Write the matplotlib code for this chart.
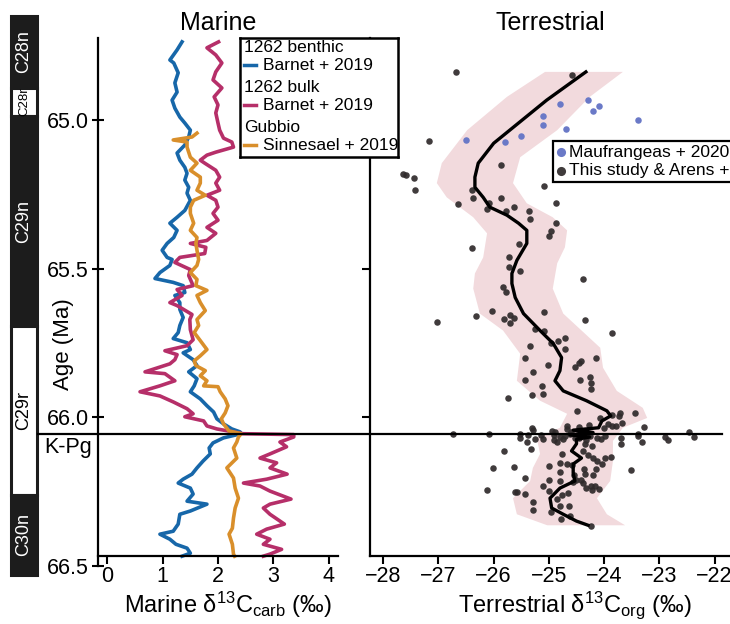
import numpy as np
import matplotlib
matplotlib.use("Agg")
import matplotlib.pyplot as plt
import matplotlib.transforms as mtransforms
from matplotlib.lines import Line2D

plt.rcParams['font.family'] = ['Liberation Sans', 'DejaVu Sans']
plt.rcParams['mathtext.fontset'] = 'custom'
plt.rcParams['mathtext.rm'] = 'Liberation Sans'
plt.rcParams['mathtext.it'] = 'Liberation Sans:italic'
plt.rcParams['mathtext.bf'] = 'Liberation Sans:bold'

# ---------------- data ----------------
KPG_AGE = 66.055

# ODP 1262 benthic foraminifera (Barnet et al. 2019)
benthic_age = [64.737, 64.764, 64.798, 64.808, 64.841, 64.875, 64.906, 64.933, 64.960, 64.990,
               65.010, 65.034, 65.057, 65.084, 65.111, 65.135, 65.159, 65.179, 65.202, 65.226,
               65.246, 65.270, 65.304, 65.327, 65.347, 65.371, 65.395, 65.415, 65.438, 65.462,
               65.469, 65.489, 65.513, 65.533, 65.546, 65.557, 65.580, 65.590, 65.614, 65.637,
               65.664, 65.691, 65.715, 65.735, 65.749, 65.772, 65.783, 65.806, 65.826, 65.847,
               65.870, 65.894, 65.914, 65.938, 65.961, 65.982, 66.005, 66.022, 66.039, 66.049,
               66.055, 66.069, 66.086, 66.103, 66.123, 66.147, 66.170, 66.191, 66.208, 66.221,
               66.238, 66.258, 66.282, 66.292, 66.315, 66.326, 66.359, 66.383, 66.393, 66.410,
               66.427, 66.440, 66.457, 66.467]
benthic_d13c = [1.35, 1.26, 1.13, 1.20, 1.28, 1.22, 1.26, 1.17, 1.22, 1.31,
                1.40, 1.50, 1.47, 1.40, 1.26, 1.31, 1.40, 1.44, 1.40, 1.47,
                1.44, 1.50, 1.40, 1.26, 1.13, 1.26, 1.20, 1.08, 0.99, 1.08,
                1.17, 1.13, 0.95, 0.86, 1.19, 1.37, 1.40, 1.22, 1.31, 1.31,
                1.37, 1.31, 1.28, 1.19, 1.44, 1.50, 1.37, 1.55, 1.62, 1.47,
                1.62, 1.57, 1.50, 1.68, 1.80, 1.92, 1.98, 2.10, 2.25, 2.40,
                2.42, 2.10, 1.91, 1.84, 1.86, 1.73, 1.62, 1.53, 1.37, 1.28,
                1.50, 1.55, 1.44, 1.80, 1.50, 1.31, 1.28, 1.19, 0.95, 1.13,
                1.24, 1.44, 1.50, 1.35]

# ODP 1262 bulk carbonate (Barnet et al. 2019)
bulk_age = [64.737, 64.757, 64.781, 64.808, 64.838, 64.865, 64.892, 64.922, 64.949, 64.976,
            65.010, 65.034, 65.061, 65.074, 65.091, 65.108, 65.118, 65.135, 65.145, 65.169,
            65.192, 65.212, 65.236, 65.253, 65.270, 65.293, 65.314, 65.337, 65.361, 65.381,
            65.405, 65.415, 65.428, 65.449, 65.462, 65.479, 65.503, 65.523, 65.557, 65.570,
            65.590, 65.614, 65.624, 65.654, 65.671, 65.705, 65.739, 65.759, 65.776, 65.789,
            65.806, 65.820, 65.847, 65.853, 65.877, 65.894, 65.914, 65.928, 65.948, 65.971,
            65.988, 65.998, 66.012, 66.029, 66.039, 66.049, 66.055, 66.058, 66.066, 66.083,
            66.099, 66.123, 66.137, 66.153, 66.170, 66.191, 66.208, 66.221, 66.231, 66.248,
            66.275, 66.292, 66.305, 66.326, 66.359, 66.376, 66.393, 66.410, 66.427, 66.444,
            66.460, 66.467]
bulk_d13c = [2.01, 1.80, 1.96, 2.07, 1.96, 1.91, 2.07, 1.93, 2.00, 1.96,
             2.00, 2.03, 2.10, 2.25, 2.28, 1.96, 1.80, 1.68, 1.76, 1.96,
             2.03, 1.96, 2.03, 1.80, 1.96, 2.00, 1.91, 2.00, 1.80, 1.96,
             1.80, 1.50, 1.78, 1.76, 1.31, 1.22, 1.50, 1.47, 1.55, 1.26,
             1.35, 1.13, 1.26, 1.53, 1.49, 1.50, 1.55, 1.44, 1.04, 1.26,
             1.22, 1.13, 0.68, 1.04, 1.22, 0.95, 0.59, 0.95, 1.19, 1.44,
             1.55, 1.40, 1.74, 1.80, 1.98, 2.28, 2.45, 3.37, 3.37, 3.12,
             3.24, 2.94, 2.76, 3.06, 2.94, 3.25, 2.88, 2.46, 2.76, 2.94,
             3.32, 2.94, 2.82, 2.94, 3.20, 2.88, 2.70, 2.94, 2.82, 3.15,
             2.94, 2.82]

# Gubbio bulk carbonate (Sinnesael et al. 2019)
gubbio_age = [65.044, 65.057, 65.067, 65.074, 65.091, 65.125, 65.145, 65.169, 65.192, 65.212,
              65.236, 65.253, 65.270, 65.293, 65.314, 65.347, 65.371, 65.395, 65.415, 65.438,
              65.469, 65.489, 65.513, 65.536, 65.557, 65.573, 65.590, 65.614, 65.641, 65.671,
              65.691, 65.715, 65.742, 65.772, 65.793, 65.810, 65.826, 65.843, 65.860, 65.877,
              65.894, 65.897, 65.914, 65.938, 65.961, 65.985, 66.005, 66.022, 66.046, 66.055,
              66.066, 66.083, 66.103, 66.137, 66.170, 66.204, 66.238, 66.272, 66.305, 66.339,
              66.373, 66.393, 66.427, 66.460, 66.467]
gubbio_d13c = [1.62, 1.53, 1.19, 1.44, 1.44, 1.50, 1.62, 1.50, 1.68, 1.68,
               1.62, 1.77, 1.56, 1.50, 1.50, 1.56, 1.50, 1.62, 1.60, 1.62,
               1.65, 1.62, 1.50, 1.62, 1.60, 1.80, 1.62, 1.68, 1.77, 1.62,
               1.65, 1.57, 1.68, 1.80, 1.68, 1.57, 1.60, 1.77, 1.68, 1.80,
               1.74, 2.00, 2.04, 2.13, 2.18, 2.13, 2.06, 2.10, 2.20, 2.42,
               2.37, 2.34, 2.28, 2.34, 2.16, 2.28, 2.31, 2.37, 2.31, 2.28,
               2.26, 2.20, 2.26, 2.28, 2.30]

# Terrestrial organic carbon: Maufrangeas et al. 2020
mauf_d13c = [-24.80, -24.29, -24.20, -24.09, -25.10, -25.10, -24.69, -23.39, -25.50, -25.80, -26.50]
mauf_age = [64.946, 64.933, 64.970, 64.954, 64.987, 65.018, 65.031, 65.000, 65.054, 65.073, 65.067]

# Terrestrial organic carbon: this study & Arens et al. 2014
terr_d13c = [-26.68, -24.59, -27.17, -27.64, -27.58, -27.44, -27.43, -25.87, -26.40, -25.09,
             -26.38, -26.64, -25.86, -26.09, -26.13, -25.78, -25.64, -25.36, -25.34, -24.87,
             -24.88, -24.97, -24.99, -25.55, -26.39, -25.72, -25.72, -25.52, -24.38, -25.84,
             -25.78, -27.02, -26.32, -26.03, -25.82, -25.71, -25.64, -25.71, -25.08, -24.34,
             -23.85, -25.26, -25.08, -24.97, -24.83, -24.70, -24.71, -25.34, -25.44, -25.01,
             -24.53, -24.45, -24.42, -24.15, -25.29, -25.44, -24.43, -24.26, -24.23, -24.23,
             -25.12, -25.11, -25.31, -25.74, -24.50, -24.07, -23.86, -23.72, -23.73, -23.44,
             -23.67, -23.78, -23.86, -23.93, -24.00, -23.28, -24.67, -24.68, -24.45, -24.27,
             -25.31, -25.29, -24.95, -24.89, -26.74, -26.09, -25.52, -25.38, -25.25, -25.14,
             -25.10, -24.91, -24.86, -24.74, -24.62, -24.53, -24.38, -24.26, -24.13, -23.98,
             -23.69, -23.39, -23.39, -22.90, -22.84, -22.46, -22.37, -25.52, -25.40, -23.69,
             -23.31, -25.32, -25.81, -24.77, -24.35, -24.22, -24.39, -24.29, -24.20, -24.12,
             -23.98, -23.88, -24.03, -24.68, -24.59, -24.79, -25.00, -26.01, -25.64, -24.36,
             -24.15, -24.79, -24.35, -24.20, -23.52, -25.44, -25.00, -24.80, -24.55, -24.56,
             -24.51, -24.42, -24.39, -24.32, -24.24, -24.16, -24.09, -24.22, -25.11, -25.62,
             -25.57, -25.43, -26.13, -24.99, -24.65, -24.76, -24.86, -25.28, -25.28, -24.97,
             -24.80, -24.64, -24.78, -24.61, -24.24, -24.80, -24.70, -24.45, -24.33, -24.05,
             -24.90, -24.60]
terr_age = [64.838, 64.848, 65.071, 65.180, 65.185, 65.195, 65.236, 65.152, 65.236, 65.223,
            65.263, 65.283, 65.263, 65.278, 65.300, 65.305, 65.291, 65.305, 65.334, 65.280,
            65.347, 65.374, 65.389, 65.416, 65.431, 65.459, 65.493, 65.507, 65.535, 65.562,
            65.577, 65.680, 65.658, 65.642, 65.668, 65.657, 65.665, 65.682, 65.647, 65.672,
            65.717, 65.703, 65.709, 65.750, 65.743, 65.734, 65.770, 65.761, 65.802, 65.825,
            65.831, 65.816, 65.810, 65.799, 65.849, 65.873, 65.874, 65.863, 65.885, 65.906,
            65.894, 65.920, 65.925, 65.935, 65.979, 66.003, 65.992, 65.984, 65.995, 65.986,
            66.020, 66.030, 66.030, 66.023, 66.035, 66.033, 66.030, 66.040, 66.032, 66.026,
            66.035, 66.041, 66.046, 66.048, 66.057, 66.057, 66.057, 66.059, 66.074, 66.059,
            66.073, 66.077, 66.082, 66.074, 66.057, 66.068, 66.057, 66.063, 66.068, 66.062,
            66.071, 66.055, 66.062, 66.065, 66.076, 66.050, 66.066, 66.070, 66.082, 66.089,
            66.083, 66.106, 66.112, 66.124, 66.090, 66.096, 66.113, 66.126, 66.136, 66.147,
            66.136, 66.132, 66.156, 66.156, 66.159, 66.154, 66.165, 66.170, 66.167, 66.175,
            66.175, 66.183, 66.192, 66.194, 66.176, 66.204, 66.211, 66.215, 66.195, 66.219,
            66.210, 66.211, 66.220, 66.237, 66.232, 66.231, 66.242, 66.246, 66.230, 66.252,
            66.250, 66.257, 66.245, 66.247, 66.254, 66.260, 66.276, 66.286, 66.313, 66.318,
            66.298, 66.298, 66.341, 66.331, 66.364, 66.066, 66.062, 66.070, 66.075, 66.072,
            66.058, 66.050]

# Smoothed terrestrial trend and its confidence envelope
trend_d13c = [-24.33, -25.04, -25.55, -26.00, -26.28, -26.34, -26.34, -26.19, -26.07, -25.76,
              -25.55, -25.40, -25.40, -25.58, -25.67, -25.67, -25.61, -25.46, -25.16, -24.92,
              -24.77, -24.80, -24.89, -24.74, -24.32, -23.95, -23.88, -24.04, -24.10, -24.56,
              -24.20, -24.62, -24.26, -24.50, -24.50, -24.59, -24.41, -24.56, -24.56, -24.53,
              -24.80, -24.98, -24.95, -24.74, -24.50, -24.29]
trend_age = [64.838, 64.933, 65.010, 65.078, 65.145, 65.192, 65.226, 65.260, 65.293, 65.320,
             65.347, 65.371, 65.415, 65.472, 65.516, 65.550, 65.597, 65.651, 65.708, 65.752,
             65.799, 65.843, 65.877, 65.911, 65.944, 65.978, 65.995, 66.012, 66.035, 66.043,
             66.051, 66.059, 66.066, 66.074, 66.089, 66.113, 66.137, 66.157, 66.187, 66.214,
             66.238, 66.272, 66.305, 66.326, 66.349, 66.363]

env_lo_d13c = [-25.07, -25.76, -26.48, -26.94, -27.03, -26.85, -26.37, -26.12, -26.19, -26.34,
               -26.37, -26.25, -25.83, -25.52, -25.58, -25.16, -24.67, -24.80, -25.22, -25.16,
               -25.29, -25.34, -25.65, -25.58, -25.03]
env_lo_age = [64.838, 64.922, 65.034, 65.145, 65.212, 65.260, 65.327, 65.381, 65.462, 65.516,
              65.567, 65.651, 65.708, 65.786, 65.877, 65.944, 65.988, 66.035, 66.069, 66.123,
              66.170, 66.214, 66.272, 66.326, 66.363]
env_hi_d13c = [-23.66, -24.26, -24.85, -25.52, -25.65, -25.40, -24.93, -24.67, -24.71, -24.85,
               -24.93, -24.74, -24.07, -24.02, -23.77, -23.30, -23.22, -23.66, -23.84, -23.84,
               -23.89, -24.13, -23.95, -23.62]
env_hi_age = [64.838, 64.922, 65.034, 65.125, 65.212, 65.280, 65.327, 65.371, 65.428, 65.482,
              65.567, 65.651, 65.766, 65.833, 65.911, 65.968, 66.002, 66.035, 66.079, 66.147,
              66.214, 66.272, 66.326, 66.363]

# Geomagnetic polarity chrons
chron_names = ['C28n', 'C28r', 'C29n', 'C29r', 'C30n']
chron_top = [64.650, 64.892, 64.987, 65.693, 66.261]
chron_base = [64.892, 64.987, 65.693, 66.261, 66.530]
chron_normal = [True, False, True, False, True]

age_ticks = [65.0, 65.5, 66.0, 66.5]
marine_ticks = [0, 1, 2, 3, 4]
terr_ticks = [-28, -27, -26, -25, -24, -23, -22]

# ---------------- styling ----------------
BLUE = '#1767a9'
RED = '#b62f69'
ORANGE = '#d98f2b'
DOT = '#2f2a2b'
DOT_BLUE = '#6a79c7'
BAND = '#f2dadd'
NARROW = ['Liberation Sans Narrow', 'Liberation Sans', 'DejaVu Sans']

W, H = 730, 624
fig = plt.figure(figsize=(W / 100, H / 100), dpi=100)

AGE_TOP, AGE_BOT = 64.724, 66.5
SPINE_AGE = 66.467

def px_rect(x0, y0, x1, y1):
    return [x0 / W, 1 - y1 / H, (x1 - x0) / W, (y1 - y0) / H]

ax1 = fig.add_axes(px_rect(98, 38, 338, 566))
ax2 = fig.add_axes(px_rect(370, 38, 730, 566))
axc = fig.add_axes(px_rect(11, 38, 37, 566))

for ax in (ax1, ax2, axc):
    ax.set_ylim(AGE_BOT, AGE_TOP)

# ---- marine panel ----
ax1.plot(benthic_d13c, benthic_age, color=BLUE, lw=2.6, solid_joinstyle='round')
ax1.plot(bulk_d13c, bulk_age, color=RED, lw=2.6, solid_joinstyle='round')
ax1.plot(gubbio_d13c, gubbio_age, color=ORANGE, lw=2.6, solid_joinstyle='round')

ax1.set_xlim(-0.17, 4.17)
ax1.set_xticks(marine_ticks)
ax1.set_yticks(age_ticks)
ax1.set_yticklabels([f'{a:.1f}' for a in age_ticks])
ax1.spines['top'].set_visible(False)
ax1.spines['right'].set_visible(False)
ax1.spines['bottom'].set_position(('data', SPINE_AGE))
for s in ('left', 'bottom'):
    ax1.spines[s].set_linewidth(1.6)
ax1.tick_params(axis='y', direction='inout', length=9, width=1.5, labelsize=15.5, pad=2)
ax1.tick_params(axis='x', direction='out', length=6, width=1.5, labelsize=15.5, pad=1)
ax1.set_title('Marine', fontsize=18, pad=6)
ax1.set_ylabel('Age (Ma)', fontsize=16)
ax1.yaxis.set_label_coords(-0.10, 0.42)
ax1.set_xlabel(r'Marine δ$^{13}$C$_{\mathrm{carb}}$ (‰)', fontsize=17)
ax1.xaxis.set_label_coords(0.54, -0.045)

# ---- terrestrial panel ----
env_x = np.concatenate([env_lo_d13c, env_hi_d13c[::-1]])
env_y = np.concatenate([env_lo_age, env_hi_age[::-1]])
ax2.fill(env_x, env_y, color=BAND, lw=0, zorder=1)
sc_terr = ax2.scatter(terr_d13c, terr_age, s=22, color=DOT, alpha=0.92, lw=0, zorder=3)
sc_mauf = ax2.scatter(mauf_d13c, mauf_age, s=22, color=DOT_BLUE, lw=0, zorder=3)
ax2.plot(trend_d13c, trend_age, color='black', lw=2.4, zorder=4, solid_joinstyle='round')

ax2.set_xlim(-28.24, -21.72)
ax2.set_xticks(terr_ticks)
ax2.set_yticks(age_ticks[:-1])
ax2.tick_params(axis='y', direction='out', length=6, width=1.5, labelleft=False)
ax2.tick_params(axis='x', direction='out', length=6, width=1.5, labelsize=15.5, pad=1)
ax2.spines['top'].set_visible(False)
ax2.spines['right'].set_visible(False)
ax2.spines['bottom'].set_position(('data', SPINE_AGE))
ax2.spines['left'].set_bounds(AGE_TOP, SPINE_AGE)
for s in ('left', 'bottom'):
    ax2.spines[s].set_linewidth(1.6)
ax2.set_title('Terrestrial', fontsize=18, pad=6)
ax2.set_xlabel(r'Terrestrial δ$^{13}$C$_{\mathrm{org}}$ (‰)', fontsize=17)
ax2.xaxis.set_label_coords(0.57, -0.045)

leg2 = ax2.legend([sc_mauf, sc_terr], ['Maufrangeas + 2020', 'This study & Arens + 2014'],
                  loc='upper left', bbox_to_anchor=(553 / W, 1 - 141 / H),
                  bbox_transform=fig.transFigure, borderaxespad=0, frameon=True,
                  fancybox=False, framealpha=1, edgecolor='black', fontsize=12.5,
                  handlelength=0.5, handletextpad=0.2, labelspacing=0.2,
                  borderpad=0.2, markerscale=1.4)
leg2.get_frame().set_linewidth(1.6)

# ---- polarity column ----
axc.set_xlim(0, 1)
axc.axis('off')
for name, top, base, normal in zip(chron_names, chron_top, chron_base, chron_normal):
    fc = '#1c1c1c' if normal else 'white'
    axc.bar(0.5, base - top, bottom=top, width=1, color=fc, edgecolor='#1c1c1c',
            lw=2.2, clip_on=False)
    size = 13 if (base - top) > 0.15 else 9.5
    axc.text(0.5, (top + base) / 2, name, rotation=90, ha='center', va='center',
             fontsize=size, family=NARROW,
             color='white' if normal else 'black', clip_on=False)

# ---- K-Pg boundary across both panels ----
trans = mtransforms.blended_transform_factory(fig.transFigure, ax1.transData)
fig.add_artist(Line2D([38 / W, 722 / W], [KPG_AGE, KPG_AGE], transform=trans,
                      color='black', lw=1.6, zorder=10))
fig.text(92 / W, 1 - 448 / H, 'K-Pg', ha='right', va='center', fontsize=15.5)

# ---- marine legend ----
legax = fig.add_axes(px_rect(240, 38, 398, 157))
legax.set_xlim(0, 158)
legax.set_ylim(119, 0)
legax.set_xticks([])
legax.set_yticks([])
for s in legax.spines.values():
    s.set_linewidth(1.8)
leg_headers = ['1262 benthic', '1262 bulk', 'Gubbio']
leg_sources = ['Barnet + 2019', 'Barnet + 2019', 'Sinnesael + 2019']
leg_colors = [BLUE, RED, ORANGE]
for i, (hd, src, c) in enumerate(zip(leg_headers, leg_sources, leg_colors)):
    hy = 10 + 40 * i
    ey = 27 + 40 * i
    legax.text(4, hy, hd, va='center', ha='left', fontsize=12.5)
    legax.plot([4, 16], [ey, ey], color=c, lw=2.5)
    legax.text(23, ey, src, va='center', ha='left', fontsize=12.5)

fig.savefig('out.png', dpi=100)
